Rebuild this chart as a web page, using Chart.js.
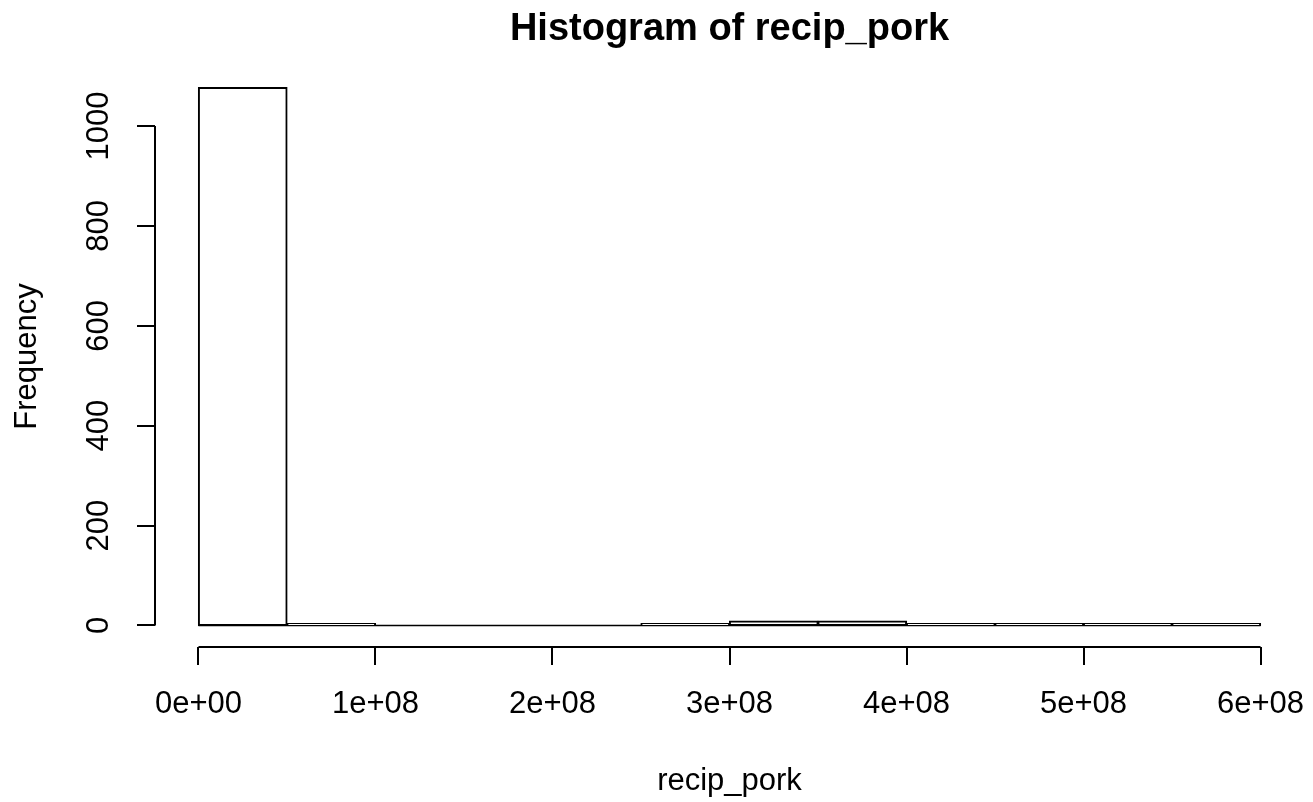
<!DOCTYPE html>
<html>
<head>
<meta charset="utf-8">
<script src="https://cdn.jsdelivr.net/npm/chart.js@4"></script>
<style>
  html, body { margin: 0; padding: 0; background: #fff; }
  #wrap { width: 1313px; height: 802px; }
</style>
</head>
<body>
<div id="wrap"><canvas id="myChart" width="1313" height="802"></canvas></div>
<script>
// histogram bins (width 5e7) and counts
const binStarts = [0, 5e7, 1e8, 1.5e8, 2e8, 2.5e8, 3e8, 3.5e8, 4e8, 4.5e8, 5e8, 5.5e8];
const binWidth = 5e7;
const counts = [1077, 4, 0, 0, 0, 4, 9, 9, 4, 4, 4, 4];

// axis ticks
const xTicks = [0, 1e8, 2e8, 3e8, 4e8, 5e8, 6e8];
const xTickLabels = ["0e+00", "1e+08", "2e+08", "3e+08", "4e+08", "5e+08", "6e+08"];
const yTicks = [0, 200, 400, 600, 800, 1000];

const titleText = "Histogram of recip_pork";
const xTitle = "recip_pork";
const yTitle = "Frequency";

const font = '"Liberation Sans", Arial, sans-serif';

// R extends the data range by 4% on each side
const xMin = 0, xMax = 6e8;
const yMax = Math.max(...counts);
const xPad = (xMax - xMin) * 0.04;
const yPad = yMax * 0.04;

// setup
const data = {
  datasets: [
    {
      label: "Frequency",
      data: binStarts.map((b, i) => ({ x: b + binWidth / 2, y: counts[i] })),
      backgroundColor: "#ffffff",
      borderColor: "#000000",
      borderWidth: 2,
      borderSkipped: false,
      inflateAmount: 0.6,
      barPercentage: 1,
      categoryPercentage: 1,
    },
  ],
};

// R style axes, titles and tick labels
const rAxes = {
  id: "rAxes",
  beforeDatasetsDraw(chart) {
    // empty bins still show as a line at the base in R
    const ctx = chart.ctx;
    const xs = chart.scales.x;
    const y0 = chart.scales.y.getPixelForValue(0);
    ctx.save();
    ctx.strokeStyle = "#000";
    ctx.lineWidth = 1.5;
    ctx.beginPath();
    ctx.moveTo(xs.getPixelForValue(binStarts[0]), y0);
    ctx.lineTo(xs.getPixelForValue(binStarts[binStarts.length - 1] + binWidth), y0);
    ctx.stroke();
    ctx.restore();
  },
  afterDraw(chart) {
    const ctx = chart.ctx;
    const xs = chart.scales.x;
    const ys = chart.scales.y;
    const area = chart.chartArea;
    ctx.save();
    ctx.strokeStyle = "#000";
    ctx.fillStyle = "#000";
    ctx.lineWidth = 2;

    // x axis
    const ay = area.bottom;
    ctx.beginPath();
    ctx.moveTo(xs.getPixelForValue(xTicks[0]), ay);
    ctx.lineTo(xs.getPixelForValue(xTicks[xTicks.length - 1]), ay);
    xTicks.forEach((t) => {
      const px = Math.round(xs.getPixelForValue(t));
      ctx.moveTo(px, ay);
      ctx.lineTo(px, ay + 18);
    });
    ctx.stroke();
    ctx.font = "31px " + font;
    ctx.textAlign = "center";
    ctx.textBaseline = "middle";
    xTicks.forEach((t, i) => {
      ctx.fillText(xTickLabels[i], xs.getPixelForValue(t), ay + 57);
    });

    // y axis
    const ax = area.left - 1;
    ctx.beginPath();
    ctx.moveTo(ax, ys.getPixelForValue(yTicks[0]));
    ctx.lineTo(ax, ys.getPixelForValue(yTicks[yTicks.length - 1]));
    yTicks.forEach((t) => {
      const py = Math.round(ys.getPixelForValue(t));
      ctx.moveTo(ax, py);
      ctx.lineTo(ax - 18, py);
    });
    ctx.stroke();
    yTicks.forEach((t) => {
      ctx.save();
      ctx.translate(ax - 56, ys.getPixelForValue(t));
      ctx.rotate(-Math.PI / 2);
      ctx.fillText(String(t), 0, 0);
      ctx.restore();
    });

    // titles
    const cx = (area.left + area.right) / 2;
    ctx.fillText(xTitle, cx, 781);
    ctx.save();
    ctx.translate(27, (area.top + area.bottom) / 2);
    ctx.rotate(-Math.PI / 2);
    ctx.fillText(yTitle, 0, 0);
    ctx.restore();
    ctx.font = "bold 38px " + font;
    ctx.fillText(titleText, cx, 30);
    ctx.restore();
  },
};

// config
const config = {
  type: "bar",
  data,
  options: {
    responsive: false,
    animation: false,
    layout: {
      padding: { left: 156, right: 10, top: 66, bottom: 155 },
    },
    plugins: {
      legend: { display: false },
      tooltip: { enabled: false },
      title: { display: false },
    },
    scales: {
      x: {
        type: "linear",
        min: xMin - xPad,
        max: xMax + xPad,
        display: false,
        offset: false,
      },
      y: {
        min: -yPad,
        max: yMax + yPad,
        display: false,
      },
    },
  },
  plugins: [rAxes],
};

// init renderer
const myChart = new Chart(document.getElementById("myChart"), config);
</script>
</body>
</html>
